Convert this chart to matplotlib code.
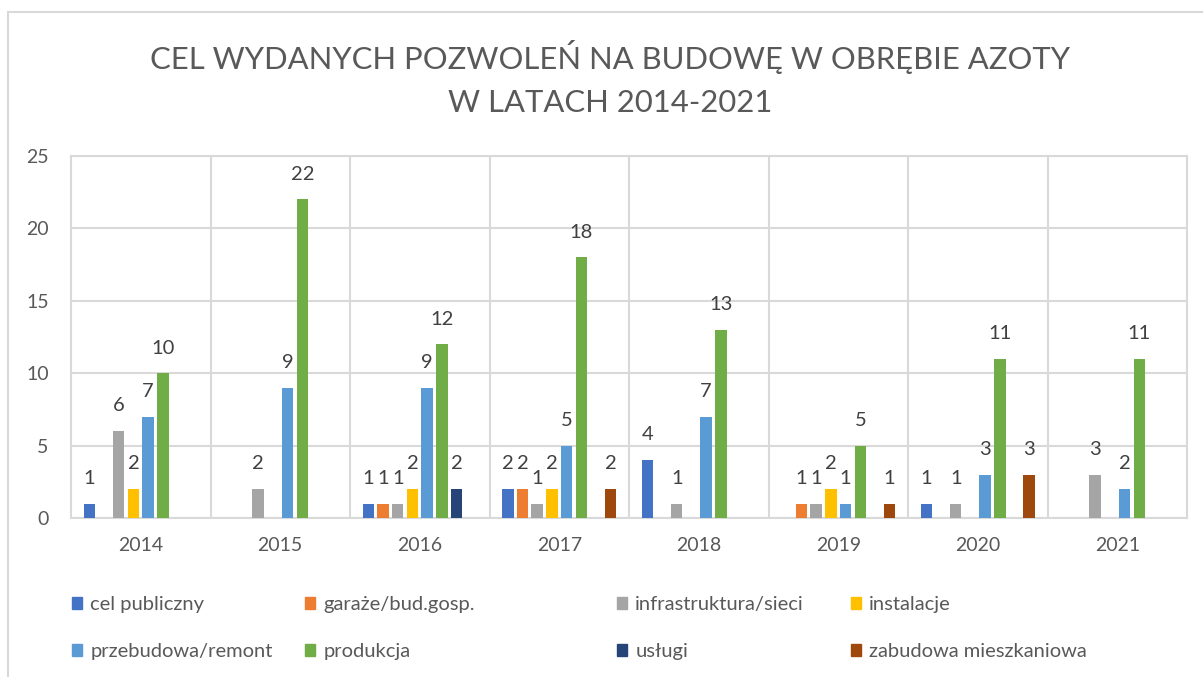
import numpy as np
import matplotlib.pyplot as plt
from matplotlib.patches import Rectangle, Patch

plt.rcParams['font.family'] = ['Lato', 'DejaVu Sans']

# data
years = ['2014', '2015', '2016', '2017', '2018', '2019', '2020', '2021']
labels = ['cel publiczny', 'garaże/bud.gosp.', 'infrastruktura/sieci', 'instalacje',
          'przebudowa/remont', 'produkcja', 'usługi', 'zabudowa mieszkaniowa']
cel_publiczny = [1, 0, 1, 2, 4, 0, 1, 0]
garaze = [0, 0, 1, 2, 0, 1, 0, 0]
infrastruktura = [6, 2, 1, 1, 1, 1, 1, 3]
instalacje = [2, 0, 2, 2, 0, 2, 0, 0]
przebudowa = [7, 9, 9, 5, 7, 1, 3, 2]
produkcja = [10, 22, 12, 18, 13, 5, 11, 11]
uslugi = [0, 0, 2, 0, 0, 0, 0, 0]
zabudowa = [0, 0, 0, 2, 0, 1, 3, 0]
colors = ['#4472C4', '#ED7D31', '#A5A5A5', '#FFC000',
          '#5B9BD5', '#70AD47', '#264478', '#9E480E']

series = [cel_publiczny, garaze, infrastruktura, instalacje,
          przebudowa, produkcja, uslugi, zabudowa]

W, H = 1203, 677
fig = plt.figure(figsize=(W / 100, H / 100), dpi=100)
ax = fig.add_axes([71 / W, 1 - 518 / H, (1187 - 71) / W, (518 - 156) / H])

grid_c = '#D9D9D9'
text_c = '#595959'
x = np.arange(len(years))
slot = 1 / 9.5
width = slot * 0.78

handles = []
for i, (vals, lab, col) in enumerate(zip(series, labels, colors)):
    pos = x + (i - 3.5) * slot
    bars = ax.bar(pos, vals, width, color=col, zorder=3)
    handles.append(Patch(color=col, label=lab))
    for b, v in zip(bars, vals):
        if v > 0:
            ax.annotate(str(v), (b.get_x() + b.get_width() / 2, v),
                        xytext=(0, 12), textcoords='offset points',
                        ha='center', va='bottom', fontsize=14.5, color='#404040')

ax.set_xlim(-0.5, 7.5)
ax.set_ylim(0, 25)
ax.set_yticks(range(0, 26, 5))
ax.set_xticks(x)
ax.set_xticklabels(years)
ax.set_xticks(np.arange(0.5, 7.5, 1), minor=True)
ax.tick_params(axis='both', which='both', length=0, labelsize=14, colors=text_c)
ax.tick_params(axis='y', pad=16)
ax.tick_params(axis='x', pad=14)
ax.grid(True, axis='y', color=grid_c, linewidth=1.5, zorder=0)
ax.grid(True, axis='x', which='minor', color=grid_c, linewidth=1.5, zorder=0)
for s in ax.spines.values():
    s.set_color(grid_c)
    s.set_linewidth(1.5)

fig.text(610 / W, 1 - 57 / H, 'CEL WYDANYCH POZWOLEŃ NA BUDOWĘ W OBRĘBIE AZOTY',
         ha='center', va='center', fontsize=22.3, color=text_c)
fig.text(610 / W, 1 - 103 / H, 'W LATACH 2014-2021',
         ha='center', va='center', fontsize=22.3, color=text_c)

# legend in four columns, two rows each (row-major order like the original)
col_x = [64, 297, 609, 843]
for c in range(4):
    leg = fig.legend(handles=[handles[c], handles[c + 4]],
                     loc='upper left', bbox_to_anchor=(col_x[c] / W, 1 - 588 / H),
                     frameon=False, fontsize=14.5, handlelength=0.5, handleheight=0.5,
                     handletextpad=0.4, labelspacing=1.5, borderaxespad=0)
    for t in leg.get_texts():
        t.set_color(text_c)

# chart border (cropped at right and bottom in the original)
fig.add_artist(Rectangle((8 / W, -0.1), 1.2, 1 - 12 / H + 0.1,
                         transform=fig.transFigure, fill=False,
                         edgecolor=grid_c, linewidth=1.5))

fig.savefig('out.png', dpi=100)
